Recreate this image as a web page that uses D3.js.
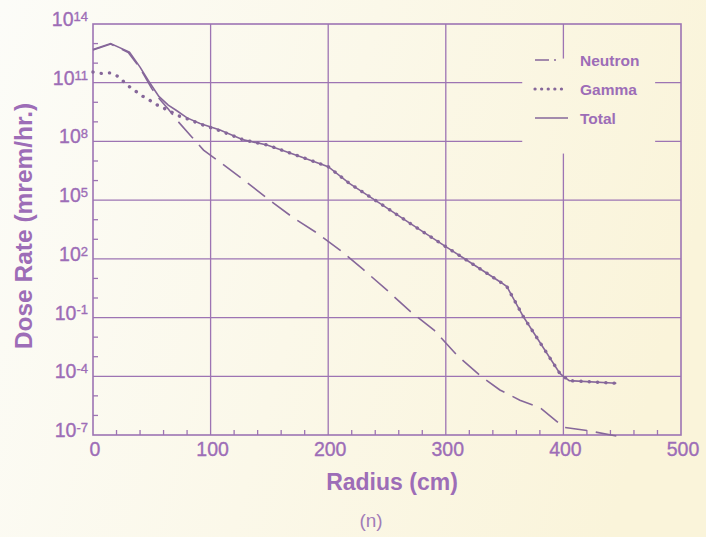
<!DOCTYPE html>
<html><head><meta charset="utf-8">
<script src="https://cdn.jsdelivr.net/npm/d3@7"></script>
<style>html,body{margin:0;padding:0;background:#fcfaf0;}svg{display:block;}</style>
</head><body>
<svg id="c" width="706" height="537"></svg>
<script>
// ---- data ----
const neutronR = [0,15,30,40,50,56,64,72,84,94,110,130,150,170,190,210,230,250,270,290,310,330,346,363,380,393,400,420,445];
const neutronV = [4.7e12,9.5e12,3.5e12,5.6e11,5.0e10,1.6e10,4.5e9,1.1e9,1.7e8,3.6e7,7.1e6,8.9e5,1.0e5,1.3e4,2.2e3,2.8e2,2.8e1,2.5,2.0e-1,2.3e-2,1.1e-3,1.0e-4,2.0e-5,6.0e-6,2.5e-6,5.8e-7,2.5e-7,1.7e-7,8.9e-8];
const gammaR = [0,7,15,22,29,36,43,50,57,64,71,78,85,92,108,128,148,176,200,218,244,270,300,315,346,352,366,397,400,405,445];
const gammaV = [3.5e11,3.0e11,3.2e11,2.0e11,7.6e10,3.8e10,1.9e10,1.1e10,5.9e9,4.0e9,2.2e9,1.6e9,1.1e9,7.4e8,3.5e8,1.2e8,6.6e7,1.7e7,5.1e6,7.2e5,6.9e4,6.3e3,4.2e2,1.1e2,6.8,3.8,1.1e-1,1.4e-4,1.0e-4,6.0e-5,4.4e-5];
const totalR = [0,15,31,40,47,56,64,71,80,91,108,128,148,176,200,218,244,270,300,315,346,352,366,397,400,405,445];
const totalV = [5.0e12,1.0e13,3.7e12,6.3e11,1.3e11,2.0e10,7.1e9,3.8e9,1.6e9,8.3e8,3.8e8,1.2e8,6.6e7,1.7e7,5.1e6,7.2e5,6.9e4,6.3e3,4.2e2,1.1e2,6.8,3.8,1.1e-1,1.4e-4,1.0e-4,6.0e-5,4.4e-5];
const xTicks = [0,100,200,300,400,500];
const yExponents = [14,11,8,5,2,-1,-4,-7];
const seriesNames = ["Neutron","Gamma","Total"];

// ---- drawing ----
const svg = d3.select("#c");
const txt = "#9d6db7", ink = "#86679a", grid = "#9d74b3";
const defs = svg.append("defs");
const lg = defs.append("linearGradient").attr("id","bg").attr("gradientUnits","userSpaceOnUse")
  .attr("x1",0).attr("y1",0).attr("x2",706).attr("y2",200);
lg.append("stop").attr("offset","0").attr("stop-color","#fcfcf8");
lg.append("stop").attr("offset","1").attr("stop-color","#faf4da");
svg.append("rect").attr("width",706).attr("height",537).attr("fill","url(#bg)");

const x = d3.scaleLinear().domain([0,500]).range([93,681]);
const y = d3.scaleLog().domain([1e-7,1e14]).range([435,24]);
const font = "'Liberation Sans', Arial, sans-serif";

// gridlines
const g = svg.append("g").attr("stroke",grid).attr("stroke-width",1.3).attr("fill","none");
g.selectAll(".vg").data(xTicks.slice(1,-1)).join("line")
  .attr("x1",d=>x(d)).attr("x2",d=>x(d)).attr("y1",y(1e14)).attr("y2",y(1e-7));
g.selectAll(".hg").data(yExponents.slice(1,-1)).join("line")
  .attr("y1",d=>y(Math.pow(10,d))).attr("y2",d=>y(Math.pow(10,d))).attr("x1",x(0)).attr("x2",x(500));

// minor ticks (inward)
const minorX = d3.range(20,500,20).filter(v=>v%100!==0);
g.selectAll(".mx").data(minorX).join("line")
  .attr("x1",d=>x(d)).attr("x2",d=>x(d)).attr("y1",y(1e-7)).attr("y2",y(1e-7)-5);
const minorY = d3.range(-6,14).filter(e=>(e+7)%3!==0);
g.selectAll(".my").data(minorY).join("line")
  .attr("y1",d=>y(Math.pow(10,d))).attr("y2",d=>y(Math.pow(10,d))).attr("x1",x(0)).attr("x2",x(0)+5);

// frame
g.append("rect").attr("x",x(0)).attr("y",y(1e14)).attr("width",x(500)-x(0)).attr("height",y(1e-7)-y(1e14)).attr("stroke-width",1.6);

// legend background box (same paper colour)
svg.append("rect").attr("x",x(365)).attr("y",y(1e13)+15).attr("width",x(478)-x(365)).attr("height",95).attr("fill","url(#bg)");

// lines
const line = (R,V)=>d3.line().x((d,i)=>x(R[i])).y((d,i)=>y(V[i]))(V);
const lines = svg.append("g").attr("fill","none").attr("stroke",ink);
lines.append("path").attr("d",line(neutronR,neutronV)).attr("stroke-width",1.6).attr("stroke-dasharray","22,9");
lines.append("path").attr("d",line(totalR,totalV)).attr("stroke-width",1.6);
lines.append("path").attr("d",line(gammaR,gammaV)).attr("stroke-width",3.4).attr("stroke-linecap","round").attr("stroke-dasharray","0.1,8.2");

// legend
const leg = svg.append("g");
const ly = [60,89,118];
const dashes = ["14,5,2,20","0.1,6.5",null];
seriesNames.forEach((n,i)=>{
  const l = leg.append("line").attr("x1",535).attr("x2",568).attr("y1",ly[i]).attr("y2",ly[i])
    .attr("stroke",ink).attr("fill","none").attr("stroke-width",i===1?3.2:1.6);
  if(dashes[i]) l.attr("stroke-dasharray",dashes[i]);
  if(i===1) l.attr("stroke-linecap","round");
  leg.append("text").attr("x",580).attr("y",ly[i]).attr("dy","0.36em").text(n)
    .attr("font-family",font).attr("font-size",15.5).attr("font-weight","bold").attr("fill",txt);
});

// x tick labels
svg.selectAll(".xl").data(xTicks).join("text")
  .attr("x",d=>x(d)+2).attr("y",y(1e-7)+13.5).attr("dy","0.36em").attr("text-anchor","middle")
  .attr("font-family",font).attr("font-size",19.5).attr("fill",txt)
  .attr("stroke",txt).attr("stroke-width",0.35).text(d=>d);

// y tick labels with superscripts
const yl = svg.selectAll(".yl").data(yExponents).join("text")
  .attr("x",x(0)-5).attr("y",d=>y(Math.pow(10,d))+2).attr("text-anchor","end")
  .attr("font-family",font).attr("font-size",19.5).attr("fill",txt)
  .attr("stroke",txt).attr("stroke-width",0.35);
yl.append("tspan").text("10");
yl.append("tspan").attr("dy","-0.4em").attr("font-size",13).text(d=>d);

// axis titles
svg.append("text").attr("x",392).attr("y",482).attr("dy","0.36em").attr("text-anchor","middle")
  .attr("font-family",font).attr("font-size",23).attr("font-weight","bold").attr("fill",txt).text("Radius (cm)");
svg.append("text").attr("transform","translate(32,226) rotate(-90)").attr("text-anchor","middle")
  .attr("font-family",font).attr("font-size",24.5).attr("font-weight","bold").attr("fill",txt).text("Dose Rate (mrem/hr.)");
svg.append("text").attr("x",371).attr("y",520).attr("dy","0.36em").attr("text-anchor","middle")
  .attr("font-family",font).attr("font-size",19).attr("fill","#a27cb8").text("(n)");
</script>
</body></html>
